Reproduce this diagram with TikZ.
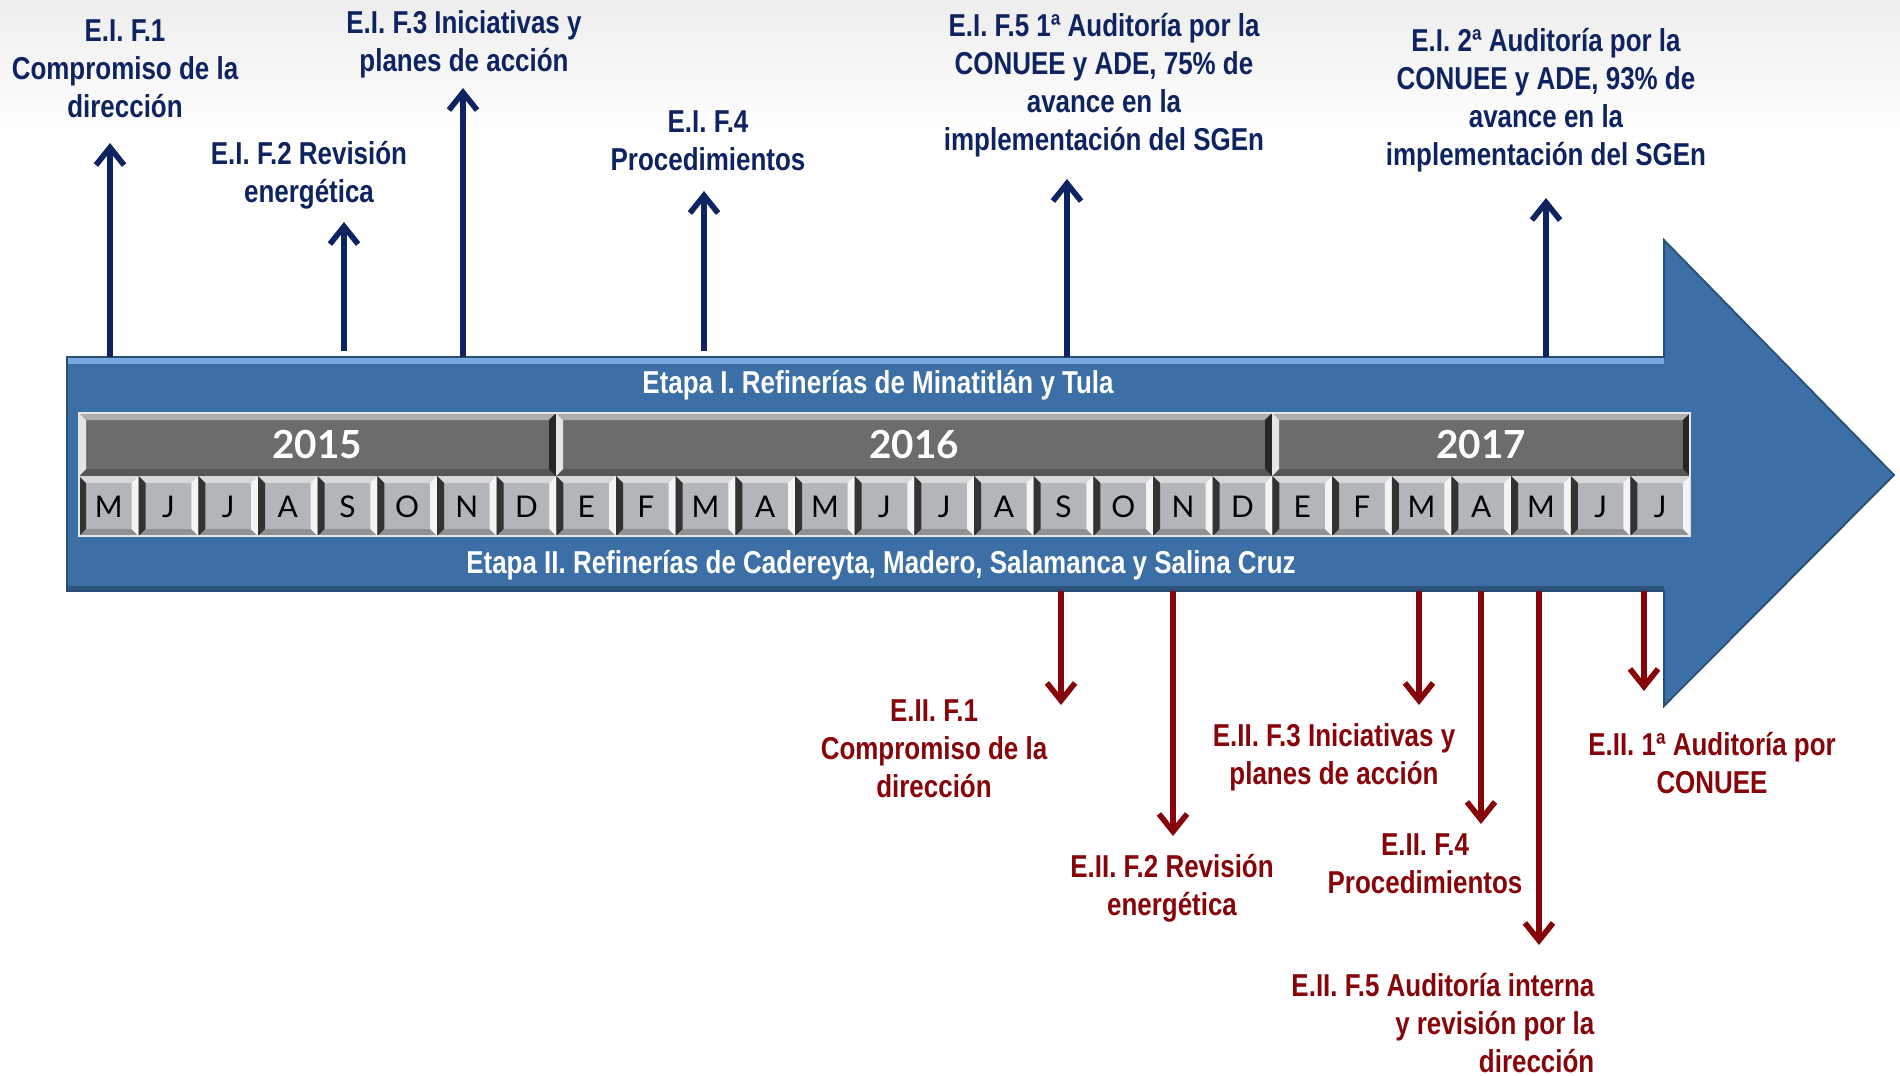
\documentclass[tikz,border=0pt]{standalone}
\usepackage{fontspec}
\setmainfont[FakeStretch=0.82]{Liberation Sans}
\newfontfamily\monthfont{Lato}
\usetikzlibrary{arrows.meta}

\definecolor{arrowblue}{RGB}{59,111,166}
\definecolor{arrowlight}{RGB}{120,168,220}
\definecolor{navy}{RGB}{14,35,95}
\definecolor{darkred}{RGB}{135,5,10}
\definecolor{yeargray}{RGB}{108,108,108}
\definecolor{monthgray}{RGB}{178,182,186}

% beveled box: x1,y1,x2,y2,base,left edge,right edge
\newcommand{\bevelbox}[7]{%
  \fill[#5] (#1,#2) rectangle (#3,#4);
  \fill[#5!55!white] (#1,#2) -- (#3,#2) -- ({#3-7},{#2+7}) -- ({#1+7},{#2+7}) -- cycle;
  \fill[#5!80!black] (#1,#4) -- (#3,#4) -- ({#3-7},{#4-7}) -- ({#1+7},{#4-7}) -- cycle;
  \fill[#6] (#1,#2) -- ({#1+7},{#2+7}) -- ({#1+7},{#4-7}) -- (#1,#4) -- cycle;
  \fill[#7] (#3,#2) -- ({#3-7},{#2+7}) -- ({#3-7},{#4-7}) -- (#3,#4) -- cycle;
}

\tikzset{
  eIarrow/.style={draw=navy, line width=1.6pt, -{Straight Barb[length=5pt,width=8pt]}},
  eIIarrow/.style={draw=darkred, line width=1.6pt, -{Straight Barb[length=5pt,width=8pt]}},
  eIlabel/.style={text=navy, font=\bfseries\fontsize{9}{10.8}\selectfont, align=center, inner sep=0pt},
  eIIlabel/.style={text=darkred, font=\bfseries\fontsize{9}{10.8}\selectfont, align=center, inner sep=0pt},
  etapa/.style={text=white, font=\bfseries\fontsize{9}{10.8}\selectfont, inner sep=0pt},
  yeartext/.style={text=white, font=\monthfont\bfseries\fontsize{11}{13}\selectfont, inner sep=0pt},
  monthtext/.style={text=black, font=\monthfont\fontsize{8.5}{10}\selectfont, inner sep=0pt}
}

\begin{document}
\begin{tikzpicture}[x=0.01cm,y=-0.01cm]
\useasboundingbox (0,0) rectangle (1900,1075);
\shade[top color=black!7, bottom color=white] (0,0) rectangle (1900,130);

% big arrow
\fill[arrowblue] (67,357) -- (1664,357) -- (1664,240) -- (1894,475) -- (1664,706) -- (1664,591) -- (67,591) -- cycle;
\fill[arrowlight] (67,357) rectangle (1664,364);
\fill[arrowblue!75!black] (67,586) rectangle (1664,591);
\draw[arrowblue!70!black, line width=0.5pt] (67,357) -- (1664,357) -- (1664,240) -- (1894,475) -- (1664,706) -- (1664,591) -- (67,591) -- cycle;

% years
\bevelbox{79}{413}{556}{476}{yeargray}{white!80!gray}{black!85}
\bevelbox{556}{413}{1272}{476}{yeargray}{white!80!gray}{black!85}
\bevelbox{1272}{413}{1690}{476}{yeargray}{white!80!gray}{black!85}
\node[yeartext] (y2015) at (317,445) {2015};
\node[yeartext] (y2016) at (914,445) {2016};
\node[yeartext] (y2017) at (1481,445) {2017};

% months
\foreach \m [count=\i] in {M,J,J,A,S,O,N,D,E,F,M,A,M,J,J,A,S,O,N,D,E,F,M,A,M,J,J} {
  \pgfmathsetmacro\xa{79+(\i-1)*59.67}
  \pgfmathsetmacro\xb{79+\i*59.67}
  \bevelbox{\xa}{476}{\xb}{536}{monthgray}{black!80}{white!85!monthgray}
  \node[monthtext] (m\i) at ({(\xa+\xb)/2},507) {\m};
}
\draw[white!80!gray, line width=0.8pt] (79,413) rectangle (1690,536);

\node[etapa] (etapaI) at (878,385) {Etapa I. Refinerías de Minatitlán y Tula};
\node[etapa] (etapaII) at (881,565) {Etapa II. Refinerías de Cadereyta, Madero, Salamanca y Salina Cruz};

% Etapa I
\node[eIlabel] (f1) at (125,69) {E.I. F.1\\Compromiso de la\\dirección};
\node[eIlabel] (f2) at (309,175) {E.I. F.2 Revisión\\energética};
\node[eIlabel] (f3) at (464,44) {E.I. F.3 Iniciativas y\\planes de acción};
\node[eIlabel] (f4) at (708,141) {E.I. F.4\\Procedimientos};
\node[eIlabel] (f5) at (1104,85) {E.I. F.5 1ª Auditoría por la\\CONUEE y ADE, 75\% de\\avance en la\\implementación del SGEn};
\node[eIlabel] (f6) at (1546,100) {E.I. 2ª Auditoría por la\\CONUEE y ADE, 93\%  de\\avance en la\\implementación del SGEn};

\coordinate (a1) at (110,357); \coordinate (a1e) at (110,143);
\coordinate (a2) at (344,351); \coordinate (a2e) at (344,222);
\coordinate (a3) at (463,357); \coordinate (a3e) at (463,88);
\coordinate (a4) at (704,351); \coordinate (a4e) at (704,191);
\coordinate (a5) at (1067,357); \coordinate (a5e) at (1067,179);
\coordinate (a6) at (1546,357); \coordinate (a6e) at (1546,198);
\foreach \i in {1,...,6}
  \draw[eIarrow] (a\i) -- (a\i e);

% Etapa II
\node[eIIlabel] (g1) at (934,749) {E.II. F.1\\Compromiso de la\\dirección};
\node[eIIlabel] (g2) at (1172,888) {E.II. F.2 Revisión\\energética};
\node[eIIlabel] (g3) at (1334,757) {E.II. F.3 Iniciativas y\\planes de acción};
\node[eIIlabel] (g4) at (1425,864) {E.II. F.4\\Procedimientos};
\node[eIIlabel, align=right, anchor=east] (g5) at (1595,1023) {E.II. F.5 Auditoría interna\\y revisión por la\\dirección};
\node[eIIlabel] (g6) at (1712,763) {E.II. 1ª Auditoría por\\CONUEE};

\coordinate (b1) at (1061,591); \coordinate (b1e) at (1061,705);
\coordinate (b2) at (1173,591); \coordinate (b2e) at (1173,836);
\coordinate (b3) at (1419,591); \coordinate (b3e) at (1419,705);
\coordinate (b4) at (1481,591); \coordinate (b4e) at (1481,824);
\coordinate (b5) at (1539,591); \coordinate (b5e) at (1539,945);
\coordinate (b6) at (1644,591); \coordinate (b6e) at (1644,691);
\foreach \i in {1,...,6}
  \draw[eIIarrow] (b\i) -- (b\i e);
\end{tikzpicture}
\end{document}
